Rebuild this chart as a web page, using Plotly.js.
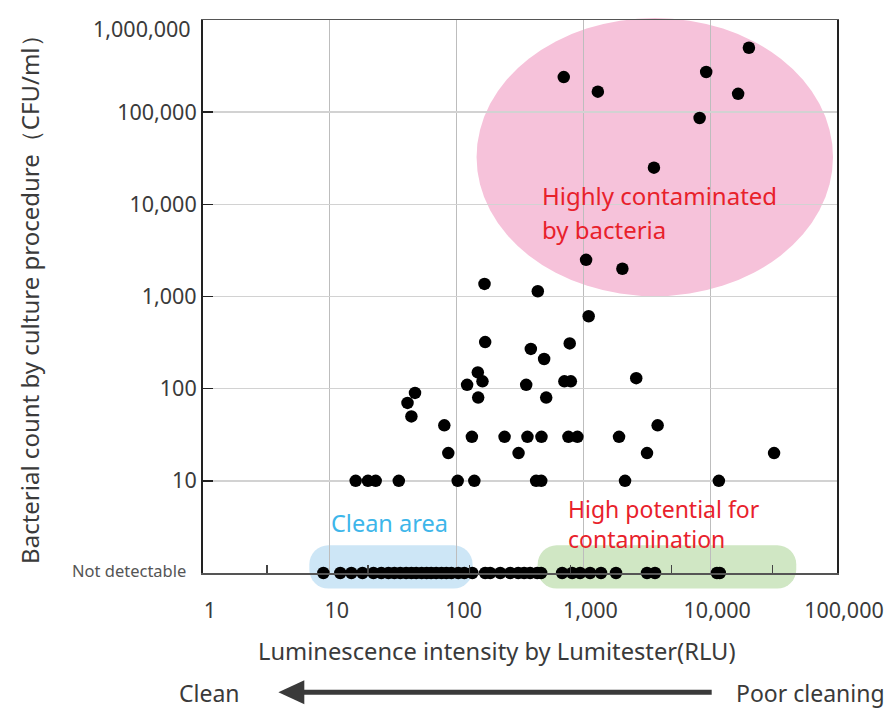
<!DOCTYPE html>
<html>
<head>
<meta charset="utf-8">
<script src="https://cdn.plot.ly/plotly-3.0.1.min.js"></script>
<style>html,body{margin:0;padding:0;background:#fff;}#chart{width:893px;height:709px;}</style>
</head>
<body>
<div id="chart"></div>
<script>
// ---------- DATA ----------
// Detected samples: luminescence (RLU) vs bacterial count (CFU/ml)
const rluDetected = [700, 1300, 9300, 20200, 16600, 8250, 3600, 1050, 2030,
  437, 166, 1100, 385, 780, 490, 168, 354, 708, 796, 2610, 147, 160, 121, 509, 148, 47, 41, 44, 80, 3850,
  132, 239, 362, 467, 762, 897, 1910,
  86, 308, 3175, 31900,
  16, 20, 23, 35, 102, 138, 424, 465, 2130, 11700];
const cfuDetected = [240000, 167000, 273000, 500000, 158000, 86500, 25000, 2500, 2000,
  1140, 1370, 610, 270, 310, 210, 320, 110, 120, 120, 130, 150, 120, 110, 80, 80, 90, 70, 50, 40, 40,
  30, 30, 30, 30, 30, 30, 30,
  20, 20, 20, 20,
  10, 10, 10, 10, 10, 10, 10, 10, 10, 10];
// Samples where bacteria were not detectable (plotted on the "Not detectable" level)
const rluNotDetected = [8.9, 12.1, 14.8, 18.1, 22.1, 25.5, 29, 32.3, 36, 40, 44, 48, 53, 58, 63, 69, 76, 83, 91,
  103, 115, 133, 168, 184, 221, 265, 306, 341, 380, 432, 464, 680, 815, 942, 1130, 1377, 1808, 3175, 3670, 11300, 11900];
const cfuNotDetected = [1, 1, 1, 1, 1, 1, 1, 1, 1, 1, 1, 1, 1, 1, 1, 1, 1, 1, 1,
  1, 1, 1, 1, 1, 1, 1, 1, 1, 1, 1, 1, 1, 1, 1, 1, 1, 1, 1, 1, 1, 1];

const xTickVals = [1, 10, 100, 1000, 10000, 100000];
const xTickText = ["1", "10", "100", "1,000", "10,000", "100,000"];
const xMinorTickVals = [3.2, 20, 126, 790, 4950, 31000];
const yTickVals = [1, 10, 100, 1000, 10000, 100000, 1000000];
const yTickText = ["", "10", "100", "1,000", "10,000", "100,000", ""];
const yBottomLabel = "Not detectable";
const yTopLabel = "1,000,000";

// ---------- GEOMETRY HELPERS (pixel -> paper) ----------
const L = 202.5, R = 837.5, T = 20, B = 572.7;
const PW = R - L, PH = B - T;
const px = v => (v - L) / PW;
const py = v => (B - v) / PH;

function roundRectPath(x0, y0, x1, y1, r) {
  const pts = [];
  const corner = (cx, cy, a0) => {
    for (let i = 0; i <= 8; i++) {
      const a = (a0 + 90 * i / 8) * Math.PI / 180;
      pts.push([cx + r * Math.cos(a), cy + r * Math.sin(a)]);
    }
  };
  corner(x1 - r, y0 + r, -90);
  corner(x1 - r, y1 - r, 0);
  corner(x0 + r, y1 - r, 90);
  corner(x0 + r, y0 + r, 180);
  return 'M' + pts.map(p => px(p[0]).toFixed(5) + ',' + py(p[1]).toFixed(5)).join('L') + 'Z';
}

const FONT = '"Noto Sans", "Open Sans", sans-serif';
const TXT = '#3a3a3a';
const RED = '#e8212b';

const traces = [
  {
    type: 'scatter', mode: 'markers', x: rluDetected, y: cfuDetected,
    marker: {color: '#000', size: 12.5}, cliponaxis: false, showlegend: false, hoverinfo: 'x+y'
  },
  {
    type: 'scatter', mode: 'markers', x: rluNotDetected, y: cfuNotDetected,
    marker: {color: '#000', size: 12.5}, cliponaxis: false, showlegend: false, hoverinfo: 'x'
  }
];

const ann = (x, y, text, size, color, anchor, extra) => Object.assign({
  xref: 'paper', yref: 'paper', x: px(x), y: py(y), xanchor: anchor || 'left', yanchor: 'middle',
  showarrow: false, text: text, font: {size: size, color: color, family: FONT}
}, extra || {});

const layout = {
  width: 893, height: 709,
  margin: {l: L, r: 893 - R, t: T, b: 709 - B, autoexpand: false},
  paper_bgcolor: '#fff', plot_bgcolor: 'rgba(0,0,0,0)',
  font: {family: FONT, color: TXT},
  showlegend: false,
  xaxis: {
    type: 'log', range: [0, 5], tickvals: xTickVals, ticktext: xTickText,
    ticks: '', showgrid: true, gridcolor: '#bdbdbd', gridwidth: 1.4,
    showline: true, linecolor: '#555', linewidth: 1.5, mirror: true, zeroline: false,
    tickfont: {size: 21.5, color: TXT, family: FONT},
    ticklabelshift: 7, ticklabelstandoff: 18,
    minor: {tickvals: xMinorTickVals, ticks: 'inside', ticklen: 8, tickcolor: '#444', tickwidth: 1.3, showgrid: false},
    fixedrange: true
  },
  yaxis: {
    type: 'log', range: [0, 6], tickvals: yTickVals, ticktext: yTickText,
    ticks: 'inside', ticklen: 10, tickwidth: 1.5, tickcolor: '#222',
    showgrid: true, gridcolor: '#d2d2d2', gridwidth: 1.4,
    showline: true, linecolor: '#222', linewidth: 2, mirror: true, zeroline: false,
    tickfont: {size: 21.5, color: TXT, family: FONT},
    fixedrange: true
  },
  shapes: [
    {type: 'circle', xref: 'paper', yref: 'paper', x0: px(476.5), x1: px(833.5), y0: py(296), y1: py(18),
     fillcolor: '#f6c2da', line: {width: 0}, layer: 'below'},
    {type: 'path', xref: 'paper', yref: 'paper', path: roundRectPath(309, 545, 472.5, 588.3, 19),
     fillcolor: '#cde6f6', line: {width: 0}, layer: 'below'},
    {type: 'path', xref: 'paper', yref: 'paper', path: roundRectPath(537.7, 545, 796.7, 588.3, 19),
     fillcolor: '#d0e7c4', line: {width: 0}, layer: 'below'},
    // arrow Clean <- Poor cleaning
    {type: 'line', xref: 'paper', yref: 'paper', x0: px(298), x1: px(712), y0: py(692), y1: py(692),
     line: {color: TXT, width: 5}},
    {type: 'path', xref: 'paper', yref: 'paper',
     path: 'M' + px(278) + ',' + py(692) + 'L' + px(304) + ',' + py(680) + 'L' + px(304) + ',' + py(704) + 'Z',
     fillcolor: TXT, line: {width: 0}}
  ],
  annotations: [
    ann(192, 28, yTopLabel, 21.5, TXT, 'right'),
    ann(187, 570, yBottomLabel, 16.5, '#555', 'right'),
    ann(28, 294, 'Bacterial count by culture procedure（CFU/ml）', 24, TXT, 'center', {textangle: -90}),
    ann(496.5, 651, 'Luminescence intensity by Lumitester(RLU)', 23.7, TXT, 'center'),
    ann(540, 195, 'Highly contaminated', 24, RED),
    ann(540, 229, 'by bacteria', 24, RED),
    ann(329, 523, 'Clean area', 23.5, '#3db6ea'),
    ann(566, 509, 'High potential for', 23, RED),
    ann(566, 539, 'contamination', 23, RED),
    ann(209, 693, 'Clean', 23, TXT, 'center'),
    ann(811, 693, 'Poor cleaning', 23, TXT, 'center')
  ]
};

Plotly.newPlot('chart', traces, layout, {displayModeBar: false, staticPlot: true});
</script>
</body>
</html>
